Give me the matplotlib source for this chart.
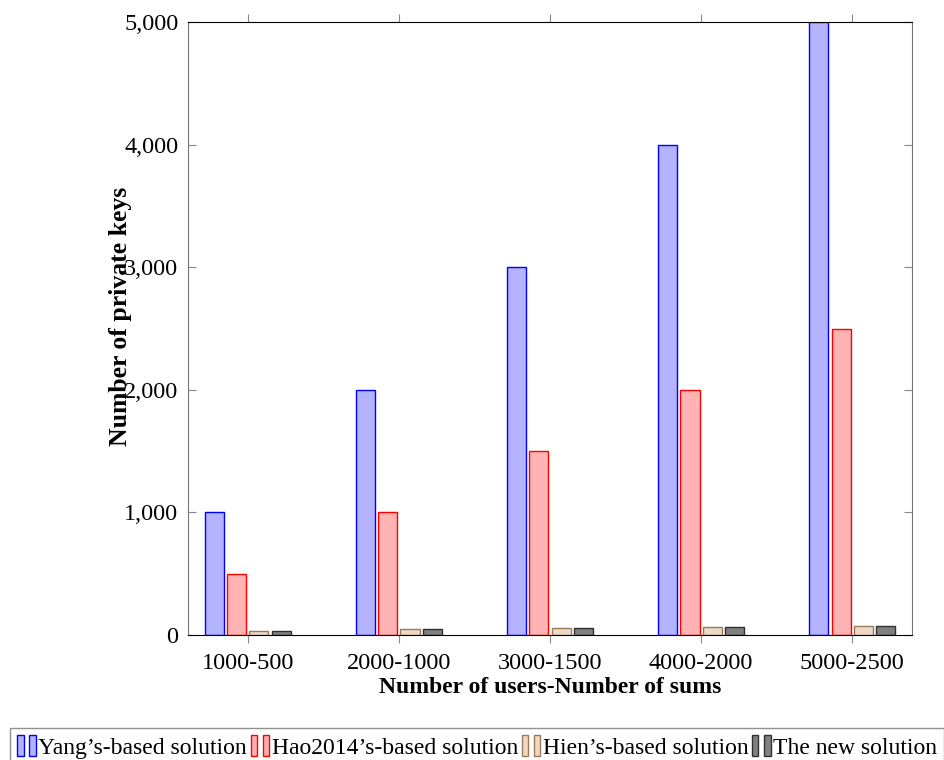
import matplotlib.pyplot as plt
import numpy as np
from matplotlib.patches import Rectangle
from matplotlib.legend_handler import HandlerTuple
from matplotlib.ticker import FuncFormatter

plt.rcParams['font.family'] = ['Liberation Serif', 'DejaVu Serif']

categories = ["1000-500", "2000-1000", "3000-1500", "4000-2000", "5000-2500"]
yang = [1000, 2000, 3000, 4000, 5000]
hao = [500, 1000, 1500, 2000, 2500]
hien = [33, 45, 55, 65, 75]
new_sol = [33, 45, 55, 65, 75]

series_names = ["Yang’s-based solution", "Hao2014’s-based solution",
                "Hien’s-based solution", "The new solution"]
fills = ["#b3b3ff", "#ffb3b3", "#ecd9c6", "#808080"]
edges = ["#0000ff", "#ff0000", "#9c7a58", "#303030"]

fig = plt.figure(figsize=(9.44, 7.6), dpi=100)
ax = fig.add_axes([188 / 944, 1 - 635 / 760, (912 - 188) / 944, (635 - 22) / 760])

x = np.arange(len(categories))
width = 0.126
pitch = 0.146
offsets = [-1.5 * pitch, -0.5 * pitch, 0.5 * pitch, 1.5 * pitch]
for vals, off, fc, ec in zip([yang, hao, hien, new_sol], offsets, fills, edges):
    ax.bar(x + off, vals, width, color=fc, edgecolor=ec, linewidth=1.0, zorder=2)

ax.set_xlim(-0.397, 4.397)
ax.set_ylim(0, 5000)
ax.set_xticks(x)
ax.set_xticklabels(categories, fontsize=17.5)
ax.set_yticks([0, 1000, 2000, 3000, 4000, 5000])
ax.yaxis.set_major_formatter(FuncFormatter(lambda v, p: f"{int(v):,}"))
ax.tick_params(axis='y', direction='in', length=6, color='#888888', labelsize=17.5,
               right=True, pad=7)
ax.tick_params(axis='x', direction='out', length=6, color='#888888', top=True, pad=7)

for s in ['left', 'right']:
    ax.spines[s].set_color('#777777')
ax.spines['top'].set_color('black')
ax.spines['bottom'].set_color('black')

ax.set_xlabel("Number of users-Number of sums", fontsize=17, fontweight='bold')
ax.xaxis.set_label_coords(0.5, -0.068)
fig.text(121 / 944, 1 - 316 / 760, "Number of private keys", rotation=90,
         fontsize=18.5, fontweight='bold', ha='center', va='center')

handles = []
for fc, ec in zip(fills, edges):
    handles.append((Rectangle((0, 0), 1, 1, facecolor=fc, edgecolor=ec, lw=1.0),
                    Rectangle((0, 0), 1, 1, facecolor=fc, edgecolor=ec, lw=1.0)))
fig.legend(handles, series_names, handler_map={tuple: HandlerTuple(ndivide=None, pad=0.25)},
           loc='upper left', bbox_to_anchor=(10 / 944, 1 - 728 / 760), ncol=4,
           fontsize=17, frameon=True, fancybox=False, edgecolor='#777777',
           handlelength=0.8, handleheight=1.0, handletextpad=0.1, columnspacing=0.15,
           borderpad=0.3, borderaxespad=0)

fig.savefig("out.png", dpi=100)
